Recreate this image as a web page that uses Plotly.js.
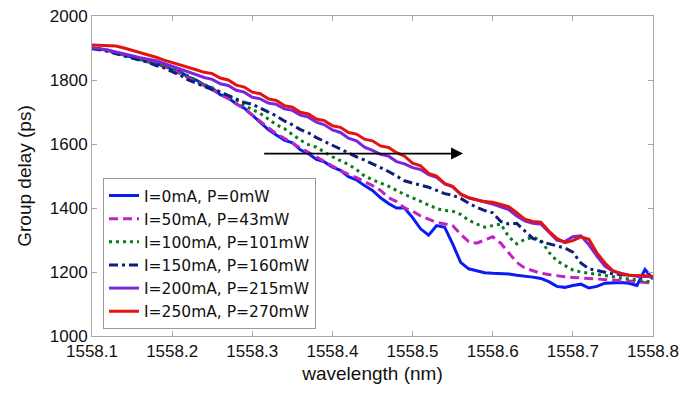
<!DOCTYPE html>
<html>
<head>
<meta charset="utf-8">
<script src="https://cdn.plot.ly/plotly-3.0.1.min.js"></script>
<style>html,body{margin:0;padding:0;background:#fff;}#chart{width:682px;height:396px;}</style>
</head>
<body>
<div id="chart"></div>
<script>
// wavelength (nm)
const wavelength = [
 1558.10,1558.11,1558.12,1558.13,1558.14,1558.15,1558.16,1558.17,1558.18,1558.19,
 1558.20,1558.21,1558.22,1558.23,1558.24,1558.25,1558.26,1558.27,1558.28,1558.29,
 1558.30,1558.31,1558.32,1558.33,1558.34,1558.35,1558.36,1558.37,1558.38,1558.39,
 1558.40,1558.41,1558.42,1558.43,1558.44,1558.45,1558.46,1558.47,1558.48,1558.49,
 1558.50,1558.51,1558.52,1558.53,1558.54,1558.55,1558.56,1558.57,1558.58,1558.59,
 1558.60,1558.61,1558.62,1558.63,1558.64,1558.65,1558.66,1558.67,1558.68,1558.69,
 1558.70,1558.71,1558.72,1558.73,1558.74,1558.75,1558.76,1558.77,1558.78,1558.79,
 1558.80];

// group delay (ps)
const delay_0mA = [
 1900,1897,1893,1886,1880,1872,1864,1860,1850,1846,
 1832,1825,1810,1800,1784,1775,1754,1744,1725,1712,
 1690,1668,1645,1628,1612,1604,1582,1570,1552,1544,
 1528,1518,1498,1488,1470,1455,1432,1414,1400,1400,
 1370,1335,1315,1345,1340,1288,1230,1210,1204,1198,
 1196,1195,1194,1190,1188,1184,1180,1170,1155,1152,
 1158,1162,1150,1155,1165,1167,1167,1165,1158,1208,
 1178];
const delay_50mA = [
 1899,1897,1892,1885,1878,1870,1864,1858,1850,1842,
 1832,1820,1808,1796,1784,1770,1755,1742,1726,1710,
 1690,1670,1650,1632,1618,1602,1588,1574,1560,1545,
 1530,1517,1505,1495,1482,1470,1455,1432,1420,1400,
 1390,1375,1365,1355,1350,1345,1318,1295,1290,1300,
 1310,1290,1260,1230,1212,1203,1196,1192,1188,1185,
 1183,1181,1179,1177,1175,1174,1173,1172,1170,1168,
 1165];
const delay_100mA = [
 1899,1896,1890,1884,1878,1872,1866,1860,1852,1845,
 1838,1826,1812,1798,1786,1776,1762,1750,1738,1720,
 1708,1695,1678,1660,1648,1630,1612,1598,1590,1575,
 1560,1548,1536,1520,1500,1488,1478,1468,1455,1442,
 1432,1420,1410,1398,1392,1390,1380,1362,1350,1340,
 1345,1350,1310,1288,1302,1308,1300,1262,1235,1220,
 1206,1200,1196,1192,1188,1185,1182,1178,1175,1172,
 1168];
const delay_150mA = [
 1898,1895,1890,1882,1875,1868,1860,1855,1845,1838,
 1826,1815,1800,1790,1778,1770,1762,1752,1740,1730,
 1724,1712,1698,1688,1672,1660,1645,1635,1620,1608,
 1596,1583,1572,1560,1550,1538,1528,1514,1500,1485,
 1478,1472,1465,1455,1445,1440,1430,1415,1402,1392,
 1385,1358,1350,1352,1330,1305,1295,1288,1282,1275,
 1262,1228,1210,1204,1198,1194,1192,1190,1188,1186,
 1185];
const delay_200mA = [
 1900,1898,1893,1888,1882,1876,1870,1866,1860,1852,
 1843,1834,1827,1817,1808,1802,1788,1783,1768,1762,
 1746,1741,1728,1724,1710,1705,1690,1684,1668,1660,
 1644,1636,1618,1610,1590,1580,1568,1562,1545,1538,
 1526,1520,1504,1496,1476,1466,1444,1432,1426,1418,
 1412,1404,1395,1375,1360,1352,1350,1325,1300,1295,
 1310,1313,1285,1250,1218,1202,1195,1190,1187,1186,
 1185];
const delay_250mA = [
 1909,1908,1909,1906,1900,1893,1885,1878,1871,1862,
 1855,1846,1840,1832,1824,1820,1806,1800,1784,1778,
 1762,1757,1741,1736,1720,1715,1699,1694,1678,1673,
 1657,1652,1636,1631,1615,1610,1594,1589,1573,1562,
 1540,1532,1508,1500,1476,1468,1442,1432,1426,1420,
 1418,1410,1404,1385,1365,1358,1356,1328,1305,1292,
 1298,1310,1302,1260,1228,1204,1195,1190,1190,1188,
 1187];

const seriesNames = ["I=0mA, P=0mW","I=50mA, P=43mW","I=100mA, P=101mW",
                     "I=150mA, P=160mW","I=200mA, P=215mW","I=250mA, P=270mW"];
const seriesValues = [delay_0mA, delay_50mA, delay_100mA, delay_150mA, delay_200mA, delay_250mA];
const seriesColors = ["#0a1cf5","#c024c0","#0b7a1e","#0d1f78","#7b26dc","#e3140f"];
const seriesDash = ["solid","9px,5px","3px,4px","9px,4px,3px,4px","solid","solid"];

const xTickVals = [1558.1,1558.2,1558.3,1558.4,1558.5,1558.6,1558.7,1558.8];
const xTickText = ["1558.1","1558.2","1558.3","1558.4","1558.5","1558.6","1558.7","1558.8"];
const yTickVals = [1000,1200,1400,1600,1800,2000];

// arrow annotation (data coordinates)
const arrowStart = [1558.313, 1570];
const arrowEnd = [1558.563, 1570];

const traces = seriesValues.map((v, i) => ({
  x: wavelength, y: v, type: "scatter", mode: "lines", name: seriesNames[i],
  line: {color: seriesColors[i], width: 3, dash: seriesDash[i]}
}));

const axisCommon = {
  showline: true, linecolor: "#a8a8a8", linewidth: 1, mirror: "ticks",
  ticks: "inside", ticklen: 5, tickcolor: "#a8a8a8", tickwidth: 1,
  showgrid: false, zeroline: false,
  tickfont: {family: "Liberation Sans, Arial, sans-serif", size: 17, color: "#111"}
};

const layout = {
  width: 682, height: 396,
  margin: {l: 92, r: 29, t: 16, b: 60},
  paper_bgcolor: "#fff", plot_bgcolor: "#fff",
  font: {family: "Liberation Sans, Arial, sans-serif", color: "#111"},
  xaxis: Object.assign({}, axisCommon, {
    range: [1558.1, 1558.8], tickmode: "array", tickvals: xTickVals, ticktext: xTickText,
    title: {text: "wavelength (nm)", font: {size: 19, color: "#111"}, standoff: 6}
  }),
  yaxis: Object.assign({}, axisCommon, {
    range: [1000, 2000], tickmode: "array", tickvals: yTickVals,
    title: {text: "Group delay (ps)", font: {size: 19, color: "#111"}, standoff: 13}
  }),
  showlegend: true,
  legend: {
    x: 0.0196, y: 0.494, xanchor: "left", yanchor: "top",
    bgcolor: "#fff", bordercolor: "#999", borderwidth: 1,
    font: {family: "DejaVu Sans, sans-serif", size: 15.5, color: "#111"}, tracegroupgap: 0
  },
  annotations: [{
    x: arrowEnd[0], y: arrowEnd[1], ax: arrowStart[0], ay: arrowStart[1],
    xref: "x", yref: "y", axref: "x", ayref: "y",
    text: "", showarrow: true, arrowhead: 2, arrowsize: 1.5, arrowwidth: 1.6, arrowcolor: "#000"
  }]
};

Plotly.newPlot("chart", traces, layout, {staticPlot: true, displayModeBar: false});
</script>
</body>
</html>
